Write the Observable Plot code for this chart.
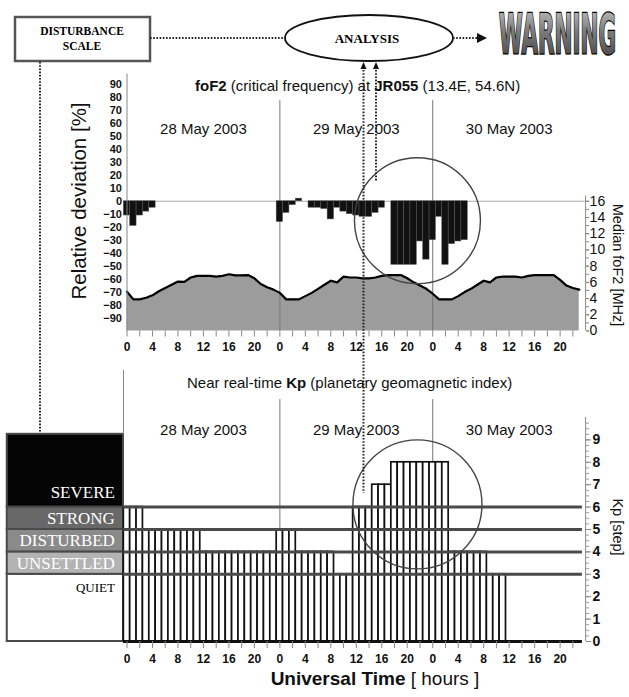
<!DOCTYPE html>
<html><head><meta charset="utf-8">
<script src="https://cdn.jsdelivr.net/npm/d3@7"></script>
<script src="https://cdn.jsdelivr.net/npm/@observablehq/plot@0.6"></script>
<style>
body{margin:0;background:#fff;}
#wrap{position:relative;width:629px;height:697px;overflow:hidden;background:#fff;}
</style></head><body><div id="wrap"></div>
<script>
// ---------- DATA ----------
const hoursUT = d3.range(0, 72);                 // hourly steps, 28 May 00 UT .. 30 May 23 UT
const dayLabels = ["28 May 2003", "29 May 2003", "30 May 2003"];
const dayMidHour = [12, 36, 60];
const dayStartHour = [24, 48];

// foF2 relative deviation from median [%] (null = no bar)
const relDeviation = [
  -11,-19,-11,-8,-5, null,null,null,null,null,null,null,null,null,null,null,null,null,null,null,null,null,null,null,
  -16,-9,-3,2,null,-5,-5,-6,-14,-5,-8,-10,-11,-12,-12,-9,-5,null,-49,-49,-49,-49,-31,-45,
  -30,-12,-49,-33,-31,-30,null,null,null,null,null,null,null,null,null,null,null,null,null,null,null,null,null,null
];
// Median foF2 [MHz]
const medianFoF2 = [
  4.85,3.9,3.9,4.1,4.4,4.9,5.3,5.7,6.1,6.05,6.6,6.8,6.8,6.8,6.7,6.8,7.0,6.85,6.85,6.9,6.5,5.8,5.4,5.1,
  4.7,3.9,3.9,3.9,4.3,4.7,5.2,5.7,6.2,6.0,6.7,6.6,6.6,6.5,6.5,6.6,6.8,6.9,6.9,6.9,6.5,6.0,5.6,5.2,
  4.6,3.9,3.9,3.9,4.3,4.8,5.2,5.7,6.2,6.0,6.6,6.7,6.7,6.7,6.6,6.8,6.9,6.9,6.9,6.9,6.3,5.6,5.3,5.1
];
// Near real-time Kp (hourly)
const kpIndex = [
  6,6,6,5,5,5,5,5,5,5,5,5,4,4,4,4,4,4,4,4,4,4,4,4,
  5,5,5,4,4,4,4,4,4,3,3,3,6,6,6,7,7,7,8,8,8,8,8,8,
  8,8,8,4,4,4,4,4,4,3,3,3,0,0,0,0,0,0,0,0,0,0,0,0
];
const devTickValues = [-90,-80,-70,-60,-50,-40,-30,-20,-10,0,10,20,30,40,50,60,70,80,90];
const mhzTickValues = [0,2,4,6,8,10,12,14,16];
const kpTickValues = [0,1,2,3,4,5,6,7,8,9];
const scaleNames = ["QUIET","UNSETTLED","DISTURBED","STRONG","SEVERE"];
const scaleLow  = [0,3,4,5,6];
const scaleHigh = [3,4,5,6,9.25];
const kpThresholds = [3,4,5,6];
const stormHour = 45.6;

// ---------- STYLE / LAYOUT ----------
const FONT = "'Liberation Sans', Arial, Helvetica, sans-serif";
const SERIF = "'Liberation Serif', 'Times New Roman', serif";
const scaleFill = {QUIET:"#ffffff", UNSETTLED:"#b3b3b3", DISTURBED:"#8a8a8a", STRONG:"#686868", SEVERE:"#050505"};
const scaleText = {QUIET:"#000", UNSETTLED:"#fff", DISTURBED:"#fff", STRONG:"#fff", SEVERE:"#fff"};
const ML = 126.5, MR = 43.9, W = 629;
const legendX = [-18.8, -0.55];
const ruleSpan = [-0.55, 71.5];
const toPct = m => -100 + 6.25 * m;   // map Median foF2 (MHz) onto the deviation axis

const dev = hoursUT.map((h, i) => ({h, v: relDeviation[i]})).filter(d => d.v != null);
const med = hoursUT.map((h, i) => ({h, p: toPct(medianFoF2[i])}));
const kp = hoursUT.map((h, i) => ({h, kp: kpIndex[i]}));
const scale = scaleNames.map((n, i) => ({name: n, lo: scaleLow[i], hi: scaleHigh[i]}));
const days = dayLabels.map((t, i) => ({t, h: dayMidHour[i]}));

const wrap = document.getElementById("wrap");

// ---------- TOP PANEL ----------
const topPlot = Plot.plot({
  width: W, height: 360, marginLeft: ML, marginRight: MR, marginTop: 71, marginBottom: 29.5,
  x: {domain: [0, 72]}, y: {domain: [-100, 100]},
  style: {fontFamily: FONT, fontSize: "13px", color: "#111", background: "transparent", overflow: "visible"},
  marks: [
    Plot.area(med, {x1: "h", y1: -100, y2: "p", fill: "#9c9c9c"}),
    Plot.ruleY([0], {x1: 0, x2: 72, stroke: "#aaa", strokeWidth: 1}),
    Plot.ruleX(dayStartHour, {y1: -100, y2: 77.5, stroke: "#777", strokeWidth: 1}),
    Plot.rect(dev, {x1: d => d.h - 0.5, x2: d => d.h + 0.5, y1: 0, y2: "v", fill: "#111", stroke: "#555", strokeWidth: 0.5}),
    Plot.line(med, {x: "h", y: "p", stroke: "#000", strokeWidth: 2.2}),
    Plot.ruleX([0], {y1: -100, y2: 98, stroke: "#888"}),
    Plot.ruleX([72], {y1: -100, y2: 4, stroke: "#888"}),
    Plot.axisY({ticks: devTickValues, tickSize: 0, tickPadding: 5, fontSize: 11, fontWeight: "bold", label: null}),
    Plot.axisY({anchor: "right", ticks: d3.range(0, 17, 1).map(toPct), tickFormat: () => "", tickSize: 3, stroke: "#888", label: null}),
    Plot.axisY({anchor: "right", ticks: mhzTickValues.map(toPct), tickFormat: d => Math.round((d + 100) / 6.25), tickSize: 3, tickPadding: 1, fontSize: 14, stroke: "#888", label: null}),
    Plot.axisX({ticks: d3.range(0, 72, 2), tickFormat: d => (d % 4 === 0 ? String(d % 24) : ""), tickSize: 6, tickPadding: 5, fontSize: 12, fontWeight: "bold", stroke: "#888", label: null}),
    Plot.dot([{h: stormHour, y: -15}], {x: "h", y: "y", r: 63, fill: "none", stroke: "#444", strokeWidth: 1.4}),
    Plot.text(days, {x: "h", text: "t", frameAnchor: "top", dy: 52, fontSize: 15})
  ]
});
topPlot.style.position = "absolute"; topPlot.style.left = "0px"; topPlot.style.top = "0px";
wrap.appendChild(topPlot);

// ---------- BOTTOM PANEL ----------
const botPlot = Plot.plot({
  width: W, height: 337, marginLeft: ML, marginRight: MR, marginTop: 12.2, marginBottom: 56,
  x: {domain: [0, 72]}, y: {domain: [0, 12]},
  style: {fontFamily: FONT, fontSize: "13px", color: "#111", background: "transparent", overflow: "visible"},
  marks: [
    Plot.rect(scale, {x1: legendX[0], x2: legendX[1], y1: "lo", y2: "hi", fill: d => scaleFill[d.name], stroke: "#4a4a4a", strokeWidth: 2}),
    Plot.text(scale, {x: -1.9, y: d => d.name === "SEVERE" ? d.lo + 0.67 : d.name === "QUIET" ? d.hi - 0.6 : (d.lo + d.hi) / 2,
      text: "name", textAnchor: "end", fill: d => scaleText[d.name], fontFamily: SERIF,
      fontSize: d => d.name === "QUIET" ? 13 : 17, fontWeight: d => d.name === "QUIET" ? "bold" : "normal"}),
    Plot.ruleX([legendX[1]], {y1: 9.25, y2: 12.1, stroke: "#888"}),
    Plot.ruleX(dayStartHour, {y1: 0, y2: 10.8, stroke: "#777"}),
    Plot.rect(kp.filter(d => d.kp > 0), {x1: d => d.h - 0.5, x2: d => d.h + 0.5, y1: 0, y2: "kp", fill: "#fff", stroke: "#111", strokeWidth: 1.7}),
    Plot.ruleY(kpThresholds, {x1: ruleSpan[0], x2: ruleSpan[1], stroke: "#4a4a4a", strokeWidth: 3}),
    Plot.ruleY([0], {x1: ruleSpan[0], x2: ruleSpan[1], stroke: "#111", strokeWidth: 3}),
    Plot.ruleX([72], {y1: 0, y2: 10, stroke: "#888"}),
    Plot.axisY({anchor: "right", ticks: d3.range(0, 10, 0.25), tickFormat: () => "", tickSize: 3, stroke: "#999", label: null}),
    Plot.axisY({anchor: "right", ticks: kpTickValues, tickSize: 5, tickPadding: 2, fontSize: 14, fontWeight: "bold", stroke: "#888", label: null}),
    Plot.axisX({ticks: d3.range(0, 72, 2), tickFormat: d => (d % 4 === 0 ? String(d % 24) : ""), tickSize: 7, tickPadding: 6, fontSize: 12, fontWeight: "bold", stroke: "#888", label: null}),
    Plot.dot([{h: stormHour, y: 6.12}], {x: "h", y: "y", r: 64.5, fill: "none", stroke: "#444", strokeWidth: 1.4}),
    Plot.text(days, {x: "h", text: "t", frameAnchor: "top", dy: 51.8, fontSize: 15})
  ]
});
botPlot.style.position = "absolute"; botPlot.style.left = "0px"; botPlot.style.top = "360px";
wrap.appendChild(botPlot);

// ---------- OVERLAY: flow chart, titles, connectors ----------
const ov = d3.select(wrap).append("svg").attr("width", W).attr("height", 697)
  .style("position", "absolute").style("left", "0px").style("top", "0px").style("pointer-events", "none");
const defs = ov.append("defs");
const g = defs.append("linearGradient").attr("id", "warnGrad").attr("x1", 0).attr("y1", 0).attr("x2", 0).attr("y2", 1);
g.append("stop").attr("offset", "0%").attr("stop-color", "#cfcfcf");
g.append("stop").attr("offset", "45%").attr("stop-color", "#7d7d7d");
g.append("stop").attr("offset", "100%").attr("stop-color", "#3c3c3c");

function dotted(x1, y1, x2, y2) {
  ov.append("line").attr("x1", x1).attr("y1", y1).attr("x2", x2).attr("y2", y2)
    .attr("stroke", "#222").attr("stroke-width", 2).attr("stroke-dasharray", "1.6 1.6");
}
function upArrow(x, y) {
  ov.append("path").attr("d", `M${x},${y} l-3,7 l6,0 z`).attr("fill", "#111");
}

// disturbance scale box
ov.append("rect").attr("x", 15).attr("y", 17).attr("width", 135).attr("height", 44)
  .attr("fill", "#fff").attr("stroke", "#555").attr("stroke-width", 2.5);
ov.append("text").attr("x", 82).attr("y", 35).attr("text-anchor", "middle").attr("font-family", SERIF)
  .attr("font-weight", "bold").attr("font-size", 11.5).text("DISTURBANCE");
ov.append("text").attr("x", 82).attr("y", 50).attr("text-anchor", "middle").attr("font-family", SERIF)
  .attr("font-weight", "bold").attr("font-size", 11.5).text("SCALE");
dotted(150, 38, 285, 38);
dotted(40, 62, 40, 432);

// analysis ellipse
ov.append("ellipse").attr("cx", 369).attr("cy", 38).attr("rx", 84).attr("ry", 23)
  .attr("fill", "#fff").attr("stroke", "#111").attr("stroke-width", 1.8);
ov.append("text").attr("x", 367).attr("y", 43).attr("text-anchor", "middle").attr("font-family", SERIF)
  .attr("font-weight", "bold").attr("font-size", 13).text("ANALYSIS");
dotted(453, 38, 478, 38);
ov.append("path").attr("d", "M487,38 l-10,-5 l0,10 z").attr("fill", "#111");

// WARNING (natural width measured, then scaled to fit 499..616)
const warn = ov.append("text").attr("x", 0).attr("y", 0)
  .attr("font-family", "'Liberation Sans Narrow','DejaVu Sans Condensed',Arial,sans-serif")
  .attr("font-weight", "bold").attr("font-size", 32)
  .attr("fill", "url(#warnGrad)").attr("stroke", "#000").attr("stroke-width", 1.4).attr("paint-order", "stroke").text("WARNING");
const warnLen = warn.node().getComputedTextLength() || 150;
warn.attr("transform", `translate(499,52.5) scale(${(117 / warnLen).toFixed(4)},1.7)`);

// analysis connectors
dotted(363.5, 70, 363.5, 493);
dotted(376, 70, 376, 182);
upArrow(363.5, 62);
upArrow(376, 62);

// titles & axis labels
const t1 = ov.append("text").attr("x", 195).attr("y", 91).attr("font-family", FONT).attr("font-size", 15).attr("fill", "#111");
t1.append("tspan").attr("font-weight", "bold").text("foF2");
t1.append("tspan").text(" (critical frequency) at ");
t1.append("tspan").attr("font-weight", "bold").text("JR055");
t1.append("tspan").text(" (13.4E, 54.6N)");

const t2 = ov.append("text").attr("x", 187).attr("y", 388).attr("font-family", FONT).attr("font-size", 15).attr("fill", "#111");
t2.append("tspan").text("Near real-time ");
t2.append("tspan").attr("font-weight", "bold").text("Kp");
t2.append("tspan").text(" (planetary geomagnetic index)");

ov.append("text").attr("transform", "translate(86,201) rotate(-90)").attr("text-anchor", "middle")
  .attr("font-family", FONT).attr("font-size", 20.5).attr("fill", "#111").text("Relative deviation [%]");
ov.append("text").attr("transform", "translate(613,265) rotate(90)").attr("text-anchor", "middle")
  .attr("font-family", FONT).attr("font-size", 14.5).attr("fill", "#111").text("Median foF2 [MHz]");
ov.append("text").attr("transform", "translate(613,527) rotate(90)").attr("text-anchor", "middle")
  .attr("font-family", FONT).attr("font-size", 14.5).attr("fill", "#111").text("Kp [step]");

const t3 = ov.append("text").attr("x", 375).attr("y", 685).attr("text-anchor", "middle").attr("font-family", FONT)
  .attr("font-size", 19).attr("fill", "#111");
t3.append("tspan").attr("font-weight", "bold").text("Universal Time");
t3.append("tspan").text(" [ hours ]");
</script>
</body></html>
